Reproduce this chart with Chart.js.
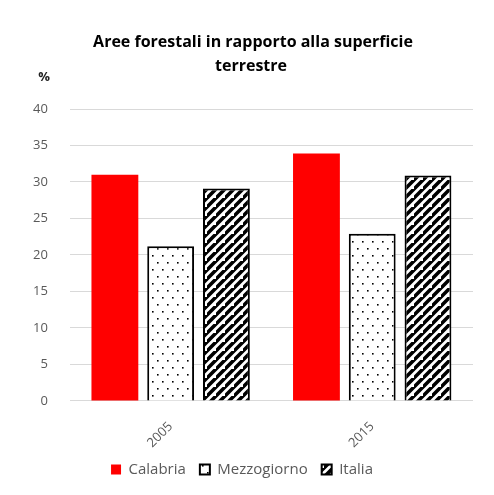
<!DOCTYPE html>
<html><head><meta charset="utf-8">
<script src="https://cdn.jsdelivr.net/npm/chart.js@4"></script>
<style>html,body{margin:0;padding:0;background:#fff;}#wrap{width:494px;height:495px;}</style>
</head><body><div id="wrap"><canvas id="c" width="494" height="495"></canvas></div>
<script>
const categories = ['2005', '2015'];
const calabria = [31.0, 33.9];
const mezzogiorno = [21.2, 22.9];
const italia = [29.1, 30.9];
const seriesNames = ['Calabria', 'Mezzogiorno', 'Italia'];
const yTicks = [0, 5, 10, 15, 20, 25, 30, 35, 40];
const titleLines = ['Aree forestali in rapporto alla superficie', 'terrestre'];

function dotPattern() {
  const w = 10, h = 14;
  const c = document.createElement('canvas'); c.width = w; c.height = h;
  const g = c.getContext('2d');
  g.fillStyle = '#fff'; g.fillRect(0, 0, w, h);
  g.fillStyle = '#000';
  g.fillRect(2, 3, 1.6, 1.6);
  g.fillRect(7, 10, 1.6, 1.6);
  return g.createPattern(c, 'repeat');
}
function stripePattern() {
  const s = 9;
  const c = document.createElement('canvas'); c.width = s; c.height = s;
  const g = c.getContext('2d');
  g.fillStyle = '#fff'; g.fillRect(0, 0, s, s);
  g.strokeStyle = '#000'; g.lineWidth = 3.6;
  g.beginPath();
  g.moveTo(-2, s + 2); g.lineTo(s + 2, -2);
  g.moveTo(-2 - s, s + 2); g.lineTo(2, -2);
  g.moveTo(s - 2, 2 * s + 2); g.lineTo(2 * s + 2, s - 2);
  g.stroke();
  return g.createPattern(c, 'repeat');
}
const dots = dotPattern();
const stripes = stripePattern();

const textPlugin = {
  id: 'texts',
  afterDraw(chart) {
    const y = chart.scales.y;
    const top = y.getPixelForValue(40);
    const ctx = chart.ctx;
    ctx.save();
    ctx.textAlign = 'center';
    ctx.textBaseline = 'middle';
    ctx.fillStyle = '#000';
    ctx.font = 'bold 16px "Open Sans", sans-serif';
    ctx.fillText(titleLines[0], 253, top - 67);
    ctx.fillText(titleLines[1], 251, top - 43);
    ctx.font = 'bold 13px "Open Sans", sans-serif';
    ctx.fillStyle = '#222';
    ctx.fillText('%', 44, top - 32);
    ctx.restore();
  }
};

new Chart(document.getElementById('c'), {
  type: 'bar',
  data: {
    labels: categories,
    datasets: [
      { label: seriesNames[0], data: calabria, backgroundColor: '#ff0000', borderWidth: 0 },
      { label: seriesNames[1], data: mezzogiorno, backgroundColor: dots, borderColor: '#000', borderWidth: 2 },
      { label: seriesNames[2], data: italia, backgroundColor: stripes, borderColor: '#000', borderWidth: 2 }
    ]
  },
  options: {
    responsive: false,
    animation: false,
    devicePixelRatio: 1,
    layout: { padding: { left: 11, right: 21, top: 109, bottom: 8 } },
    datasets: { bar: { categoryPercentage: 0.83, barPercentage: 0.84 } },
    plugins: {
      title: { display: false },
      legend: {
        position: 'bottom',
        labels: {
          boxWidth: 10, boxHeight: 10, padding: 14,
          color: '#595959',
          font: { family: '"Open Sans", sans-serif', size: 15 }
        }
      },
      tooltip: { enabled: false }
    },
    scales: {
      x: {
        grid: { display: false },
        border: { display: false },
        afterFit(scale) { scale.height -= 13; },
        ticks: {
          color: '#595959', minRotation: 45, maxRotation: 45, padding: 10,
          font: { family: '"Open Sans", sans-serif', size: 13 }
        }
      },
      y: {
        min: 0, max: 40,
        afterBuildTicks(scale) { scale.ticks = yTicks.map(v => ({ value: v })); },
        grid: { color: '#d9d9d9', drawTicks: false, lineWidth: 1 },
        border: { display: false },
        ticks: {
          color: '#595959', padding: 22,
          font: { family: '"Open Sans", sans-serif', size: 13 }
        }
      }
    }
  },
  plugins: [textPlugin]
});
</script>
</body></html>
